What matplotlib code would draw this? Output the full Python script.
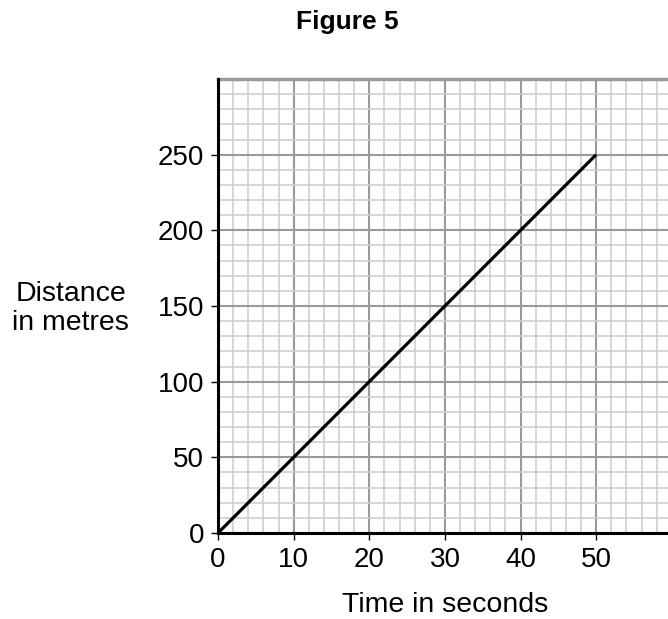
import numpy as np
import matplotlib.pyplot as plt
from matplotlib.ticker import MultipleLocator

plt.rcParams['font.family'] = ['Liberation Sans', 'DejaVu Sans']

# data
time_s = [0, 50]
distance_m = [0, 250]
x_ticks = [0, 10, 20, 30, 40, 50]
y_ticks = [0, 50, 100, 150, 200, 250]

W, H = 668, 619
fig = plt.figure(figsize=(W / 100, H / 100), dpi=100)
ax = fig.add_axes([218 / W, 86 / H, 450 / W, 454 / H])

ax.set_xlim(0, 59.5)
ax.set_ylim(0, 300)

# graph paper grid
ax.xaxis.set_minor_locator(MultipleLocator(2))
ax.yaxis.set_minor_locator(MultipleLocator(10))
ax.set_xticks(x_ticks)
ax.set_yticks(y_ticks)
ax.grid(which='minor', color='#cccccc', linewidth=1.1, zorder=0)
ax.grid(which='major', color='#9a9a9a', linewidth=1.5, zorder=0)
ax.set_axisbelow(True)

# top border of the paper is a grid line
ax.axhline(300, color='#9a9a9a', linewidth=2.5, clip_on=False, zorder=1)

ax.plot(time_s, distance_m, color='black', linewidth=2.3, solid_capstyle='butt', zorder=3)

for s in ['top', 'right']:
    ax.spines[s].set_visible(False)
for s in ['left', 'bottom']:
    ax.spines[s].set_linewidth(2.2)
    ax.spines[s].set_zorder(4)

ax.tick_params(which='major', length=5, width=1.0, labelsize=20, pad=5)
ax.tick_params(which='minor', length=0)

fig.text(347 / W, 1 - 22 / H, "Figure 5", ha='center', va='center',
         fontsize=19, fontweight='bold')
fig.text(70.5 / W, 1 - 301 / H, "Distance", ha='center', va='baseline', fontsize=20.5)
fig.text(70.5 / W, 1 - 330 / H, "in metres", ha='center', va='baseline', fontsize=20.5)
fig.text(445 / W, 1 - 612 / H, "Time in seconds", ha='center', va='baseline',
         fontsize=20.5)

fig.savefig("out.png", dpi=100)
